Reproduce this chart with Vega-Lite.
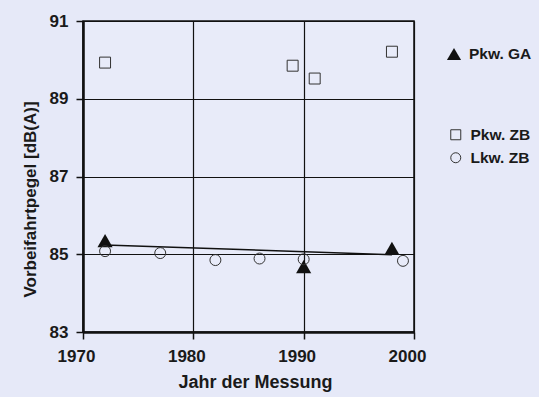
{
  "$schema": "https://vega.github.io/schema/vega-lite/v6.json",
  "autosize": "none",
  "width": 331,
  "height": 311,
  "padding": {"left": 83, "top": 21, "right": 125, "bottom": 65},
  "background": "#e6e9f8",
  "config": {
    "font": "Liberation Sans",
    "view": {"stroke": "#111111", "strokeWidth": 1.5, "fill": "#e8ebf9"},
    "axis": {
      "labelFont": "Liberation Sans",
      "labelFontWeight": "bold",
      "labelFontSize": 17,
      "labelColor": "#1a1a1a",
      "titleFont": "Liberation Sans",
      "titleFontWeight": "bold",
      "titleFontSize": 17,
      "titleColor": "#1a1a1a",
      "gridColor": "#111111",
      "gridOpacity": 1,
      "gridWidth": 1.2,
      "domainColor": "#111111",
      "domainWidth": 2.5,
      "tickColor": "#111111",
      "tickSize": 7,
      "tickWidth": 1.5
    },
    "legend": {
      "labelFont": "Liberation Sans",
      "labelFontWeight": "bold",
      "labelFontSize": 15.5,
      "labelColor": "#1a1a1a",
      "rowPadding": 6,
      "symbolStrokeWidth": 1,
      "labelOffset": 7
    }
  },
  "datasets": {
    "messungen": [
      {"jahr": 1972, "pegel": 85.35, "reihe": "Pkw. GA"},
      {"jahr": 1990, "pegel": 84.68, "reihe": "Pkw. GA"},
      {"jahr": 1998, "pegel": 85.15, "reihe": "Pkw. GA"},
      {"jahr": 1972, "pegel": 89.93, "reihe": "Pkw. ZB"},
      {"jahr": 1989, "pegel": 89.85, "reihe": "Pkw. ZB"},
      {"jahr": 1991, "pegel": 89.52, "reihe": "Pkw. ZB"},
      {"jahr": 1998, "pegel": 90.21, "reihe": "Pkw. ZB"},
      {"jahr": 1972, "pegel": 85.08, "reihe": "Lkw. ZB"},
      {"jahr": 1977, "pegel": 85.03, "reihe": "Lkw. ZB"},
      {"jahr": 1982, "pegel": 84.85, "reihe": "Lkw. ZB"},
      {"jahr": 1986, "pegel": 84.89, "reihe": "Lkw. ZB"},
      {"jahr": 1990, "pegel": 84.87, "reihe": "Lkw. ZB"},
      {"jahr": 1999, "pegel": 84.83, "reihe": "Lkw. ZB"}
    ],
    "trend": [
      {"jahr": 1972, "pegel": 85.24},
      {"jahr": 1998, "pegel": 84.99}
    ]
  },
  "encoding": {
    "x": {
      "field": "jahr",
      "type": "quantitative",
      "scale": {"domain": [1970, 2000], "nice": false, "zero": false},
      "axis": {
        "values": [1970, 1980, 1990, 2000],
        "format": "d",
        "title": "Jahr der Messung",
        "titleFontSize": 18,
        "titleX": 172,
        "labelFlush": false,
        "labelOffset": -7,
        "labelPadding": 9,
        "titlePadding": 9
      }
    },
    "y": {
      "field": "pegel",
      "type": "quantitative",
      "scale": {"domain": [83, 91], "nice": false, "zero": false},
      "axis": {
        "values": [83, 85, 87, 89, 91],
        "format": "d",
        "title": "Vorbeifahrtpegel [dB(A)]",
        "labelFlush": false,
        "labelPadding": 8,
        "titlePadding": 10,
        "titleY": 178
      }
    }
  },
  "layer": [
    {
      "data": {"name": "trend"},
      "mark": {"type": "line", "color": "#111111", "strokeWidth": 1.5},
      "encoding": {}
    },
    {
      "data": {"name": "messungen"},
      "transform": [{"filter": "datum.reihe === 'Pkw. GA'"}],
      "mark": {"type": "point", "filled": true, "color": "#111111", "size": 230, "opacity": 1},
      "encoding": {
        "shape": {
          "field": "reihe",
          "type": "nominal",
          "scale": {"domain": ["Pkw. GA"], "range": ["triangle-up"]},
          "legend": {"title": null, "orient": "none", "legendX": 363, "legendY": 25, "symbolSize": 200, "symbolFillColor": "#111111"}
        }
      }
    },
    {
      "data": {"name": "messungen"},
      "transform": [{"filter": "datum.reihe !== 'Pkw. GA'"}],
      "mark": {"type": "point", "filled": false, "color": "#333333", "strokeWidth": 1, "size": 120, "opacity": 1},
      "encoding": {
        "shape": {
          "field": "reihe",
          "type": "nominal",
          "scale": {"domain": ["Pkw. ZB", "Lkw. ZB"], "range": ["square", "circle"]},
          "legend": {"title": null, "orient": "none", "legendX": 365, "legendY": 106, "symbolSize": 100, "symbolStrokeColor": "#333333"}
        }
      }
    }
  ],
  "resolve": {"scale": {"shape": "independent"}}
}
